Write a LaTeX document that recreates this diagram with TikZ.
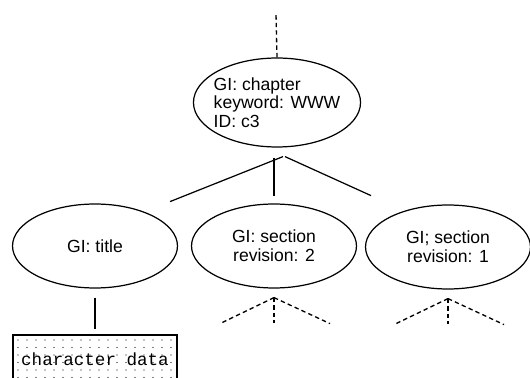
\documentclass[tikz,border=0pt]{standalone}
\usepackage{fontspec}
\usetikzlibrary{shapes.geometric}
\setmainfont{Liberation Sans}
\setmonofont{Liberation Mono}
\begin{document}
\begin{tikzpicture}[x=0.02cm,y=-0.02cm,line width=0.7pt,
		elem/.style={draw,ellipse,inner sep=0pt,minimum width=3.3cm,minimum height=1.68cm,align=center,font=\fontsize{10}{10.6}\selectfont},
		stub/.style={dash pattern=on 2.5pt off 1.8pt,line width=0.75pt}]
	\useasboundingbox (0,0) rectangle (530,378);
	\clip (0,0) rectangle (530,378);

	% element nodes
	\node[elem, minimum width=3.34cm, minimum height=1.78cm, inner xsep=-2.4pt, align=left] (chapter) at (277,102.5) {GI: chapter\\keyword: WWW\\ID: c3};
	\node[elem] (title) at (95,246) {GI: title};
	\node[elem] (sec2) at (274,246) {GI: section\\revision: 2};
	\node[elem] (sec1) at (448,247) {GI; section\\revision: 1};

	% parent of chapter
	\coordinate (up) at (276,14);
	\draw[stub] (chapter.north) -- (up);

	% branches to the children
	\draw (chapter.south) ++(6,9) -- ++(-113,45);
	\draw (chapter.south) ++(-3,10) -- ++(0,38);
	\draw (chapter.south) ++(8,9) -- ++(86,39);

	% children not shown
	\foreach \n in {sec2,sec1} {
		\draw[stub] (\n.south) ++(0,9) -- ++(-54,26);
		\draw[stub] (\n.south) ++(0,9) -- ++(0,25);
		\draw[stub] (\n.south) ++(0,9) -- ++(56,26);
	}

	% dotted content box
	\foreach \y in {340,347.5,...,385}
		\foreach \x in {18,27,...,175}
			\fill (\x,\y) circle (0.7);
	\node[draw, rectangle, minimum width=3.28cm, minimum height=0.96cm, font=\ttfamily\fontsize{10}{11}\selectfont] (chars) at (95,359) {character data};
	\draw (title.south) ++(0,9) -- ++(0,31);
\end{tikzpicture}
\end{document}
